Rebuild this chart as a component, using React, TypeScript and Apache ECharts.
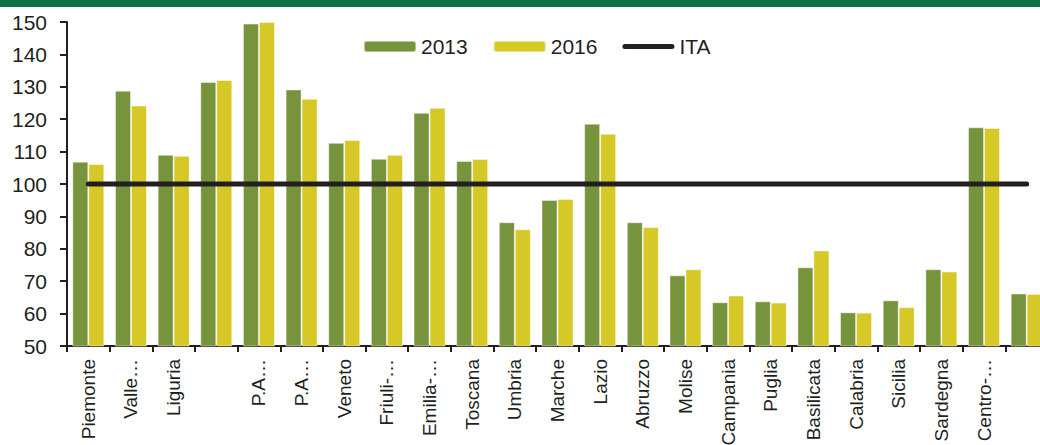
import React, { useEffect, useRef } from "react";
import * as echarts from "echarts";

const categories = [
  "Piemonte", "Valle…", "Liguria", "", "P.A…", "P.A…", "Veneto", "Friuli-…",
  "Emilia-…", "Toscana", "Umbria", "Marche", "Lazio", "Abruzzo", "Molise",
  "Campania", "Puglia", "Basilicata", "Calabria", "Sicilia", "Sardegna", "Centro-…", "",
];
const values2013 = [
  106.9, 128.8, 109.0, 131.5, 149.5, 129.2, 112.7, 107.8, 122.0, 107.1, 88.2, 95.1,
  118.6, 88.2, 71.8, 63.5, 63.8, 74.3, 60.4, 64.1, 73.7, 117.5, 66.2,
];
const values2016 = [
  106.2, 124.2, 108.7, 132.1, 150.0, 126.3, 113.6, 109.0, 123.5, 107.7, 86.0, 95.4,
  115.5, 86.7, 73.7, 65.6, 63.4, 79.5, 60.3, 62.0, 73.0, 117.3, 66.1,
];
const valuesITA = categories.map(() => 100);
const yTicks = { min: 50, max: 150, interval: 10 };

const TEXT = "#231f20";
const FONT = "'Liberation Sans', Arial, sans-serif";

export default function App() {
  const ref = useRef<HTMLDivElement>(null);
  useEffect(() => {
    document.body.style.margin = "0";
    document.body.style.overflow = "hidden";
    document.documentElement.style.overflow = "hidden";
    const chart = echarts.init(ref.current!, null, { renderer: "svg" });
    chart.setOption({
      animation: false,
      textStyle: { fontFamily: FONT, color: TEXT },
      graphic: [
        { type: "rect", left: 0, top: 0, shape: { width: 1040, height: 7 }, style: { fill: "#0e7045" } },
      ],
      legend: {
        left: 358,
        top: 31,
        itemWidth: 52,
        itemHeight: 11,
        itemGap: 25,
        textStyle: { fontSize: 21, color: TEXT, fontFamily: FONT },
        data: [
          "2013",
          "2016",
          {
            name: "ITA",
            icon: "path://M0,0 M52,11 M2.5,3 L49.5,3 A2.5,2.5 0 0 1 49.5,8 L2.5,8 A2.5,2.5 0 0 1 2.5,3 Z",
          },
        ],
      },
      grid: { left: 67, top: 22, bottom: 99, right: -8, containLabel: false, outerBoundsMode: "none" },
      xAxis: {
        type: "category",
        data: categories,
        axisLine: { lineStyle: { color: TEXT, width: 2 } },
        axisTick: { show: true, length: 6, interval: 0, lineStyle: { color: TEXT, width: 2 } },
        axisLabel: { rotate: 90, interval: 0, fontSize: 19, color: TEXT, margin: 13, fontFamily: FONT },
      },
      yAxis: {
        type: "value",
        min: yTicks.min,
        max: yTicks.max,
        interval: yTicks.interval,
        axisLine: { show: true, lineStyle: { color: TEXT, width: 2 } },
        axisTick: { show: true, length: 7, lineStyle: { color: TEXT, width: 2 } },
        axisLabel: { fontSize: 21, color: TEXT, margin: 20, fontFamily: FONT },
        splitLine: { show: false },
      },
      series: [
        {
          name: "2013",
          type: "bar",
          data: values2013,
          barWidth: 16,
          barGap: "0%",
          itemStyle: { color: "#77933c", borderColor: "rgba(255,255,255,0.45)", borderWidth: 1 },
        },
        {
          name: "2016",
          type: "bar",
          data: values2016,
          barWidth: 16,
          barGap: "0%",
          itemStyle: { color: "#d6c826", borderColor: "rgba(255,255,255,0.45)", borderWidth: 1 },
        },
        {
          name: "ITA",
          type: "line",
          data: valuesITA,
          symbol: "none",
          itemStyle: { color: TEXT },
          lineStyle: { color: TEXT, width: 5, cap: "round" },
          z: 5,
        },
      ],
    });
    return () => chart.dispose();
  }, []);
  return <div ref={ref} style={{ width: 1040, height: 445, overflow: "hidden" }} />;
}
